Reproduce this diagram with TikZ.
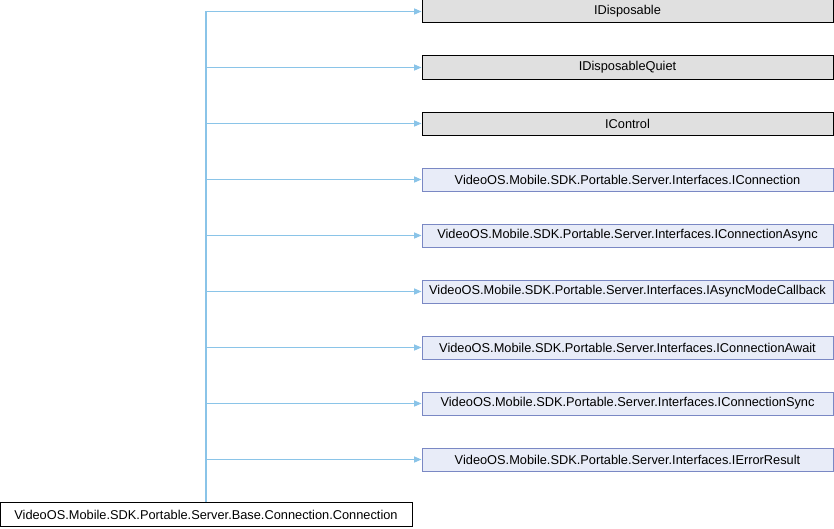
\documentclass[tikz,border=0pt]{standalone}
\usepackage{fontspec}
\setmainfont{Liberation Sans}
\usetikzlibrary{arrows.meta}

\definecolor{greyfill}{HTML}{E0E0E0}
\definecolor{ifacefill}{HTML}{E8ECF8}
\definecolor{ifaceline}{HTML}{7A88C4}
\definecolor{edgeblue}{HTML}{8AC4E8}

\begin{document}
\begin{tikzpicture}[x=0.75pt,y=-0.75pt,
  every node/.style={font=\fontsize{9.6}{11.5}\selectfont, inner sep=0pt},
  greybox/.style={draw=black, fill=greyfill, line width=0.75pt, minimum width=308.25pt, minimum height=17.25pt},
  ifacebox/.style={draw=ifaceline, fill=ifacefill, line width=0.75pt, minimum width=308.25pt, minimum height=17.25pt},
  basebox/.style={draw=black, fill=white, line width=0.75pt, minimum width=309pt, minimum height=18.5pt},
  edge/.style={draw=edgeblue, line width=0.8pt, -{Triangle[length=5.5pt,width=4.5pt]}}]

\useasboundingbox (0,0) rectangle (834,528) ;

\node [greybox] (idisposable) at (627.5,11.5) {IDisposable} ;
\node [greybox] (idisposablequiet) at (627.5,67.5) {IDisposableQuiet} ;
\node [greybox] (icontrol) at (627.5,123.5) {IControl} ;
\node [ifacebox] (iconnection) at (627.5,179.5) {VideoOS.Mobile.SDK.Portable.Server.Interfaces.IConnection} ;
\node [ifacebox] (iconnectionasync) at (627.5,235.5) {VideoOS.Mobile.SDK.Portable.Server.Interfaces.IConnectionAsync} ;
\node [ifacebox] (iasyncmodecallback) at (627.5,291.5) {VideoOS.Mobile.SDK.Portable.Server.Interfaces.IAsyncModeCallback} ;
\node [ifacebox] (iconnectionawait) at (627.5,347.5) {VideoOS.Mobile.SDK.Portable.Server.Interfaces.IConnectionAwait} ;
\node [ifacebox] (iconnectionsync) at (627.5,403.5) {VideoOS.Mobile.SDK.Portable.Server.Interfaces.IConnectionSync} ;
\node [ifacebox] (ierrorresult) at (627.5,459.5) {VideoOS.Mobile.SDK.Portable.Server.Interfaces.IErrorResult} ;

\node [basebox] (connection) at (206,514.5) {VideoOS.Mobile.SDK.Portable.Server.Base.Connection.Connection} ;

\draw [edge, -] (connection.north) -- (connection.north |- idisposable.west) ;
\foreach \n in {idisposable,idisposablequiet,icontrol,iconnection,iconnectionasync,iasyncmodecallback,iconnectionawait,iconnectionsync,ierrorresult}
  \draw [edge] (connection.north |- \n.west) -- (\n.west) ;
\end{tikzpicture}
\end{document}
